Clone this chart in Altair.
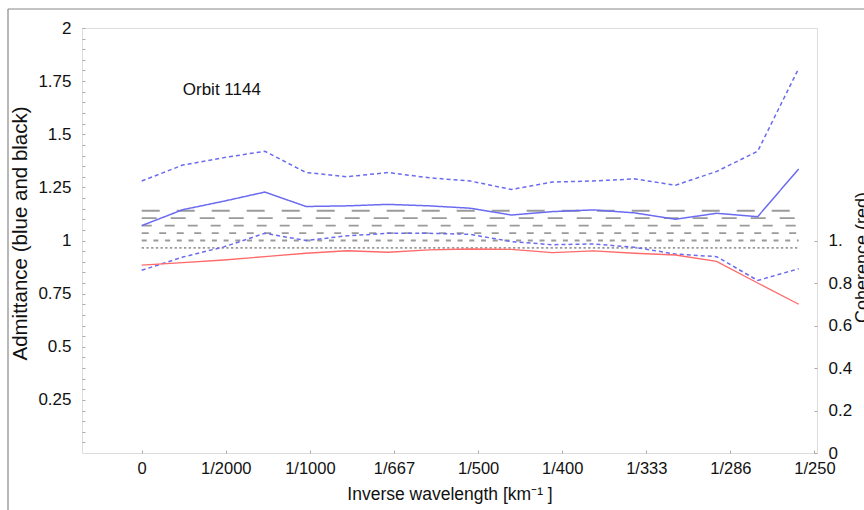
import altair as alt
import pandas as pd

# Wavenumber samples: k = n / 4096 km^-1, n = 0..16
k = [n / 4096 for n in range(17)]

# Admittance estimate (solid) and its upper / lower bounds (dotted)
adm_upper = [1.28, 1.355, 1.39, 1.42, 1.32, 1.30, 1.32, 1.295, 1.28, 1.24,
             1.275, 1.28, 1.29, 1.26, 1.325, 1.42, 1.81]
adm_mid = [1.07, 1.145, 1.185, 1.228, 1.16, 1.163, 1.17, 1.163, 1.152, 1.12,
           1.136, 1.144, 1.13, 1.10, 1.128, 1.112, 1.337]
adm_lower = [0.86, 0.922, 0.97, 1.034, 1.0, 1.022, 1.034, 1.034, 1.029, 0.995,
             0.98, 0.984, 0.968, 0.936, 0.924, 0.812, 0.867]

# Coherence between the two fields
coherence = [0.884, 0.896, 0.908, 0.924, 0.94, 0.952, 0.945, 0.956, 0.96, 0.958,
             0.943, 0.951, 0.94, 0.932, 0.902, 0.80, 0.70]

# Model admittance levels (black, dashed)
ref_levels = [1.14, 1.105, 1.07, 1.035, 1.0, 0.965]
ref_dashes = [[18, 17], [15, 14], [10, 13], [7, 10.5], [5, 6.7], [2.3, 2.4]]

# Axis ticks
x_ticks = [0, 0.0005, 0.001, 0.0015, 0.002, 0.0025, 0.003, 0.0035, 0.004]
x_labels = ["0", "1/2000", "1/1000", "1/667", "1/500", "1/400", "1/333", "1/286", "1/250"]
y_ticks = [round(0.05 * i, 2) for i in range(1, 41)]
coh_ticks = [0, 0.2, 0.4, 0.6, 0.8, 1.0]

annotation = pd.DataFrame({"k": [1 / 4096], "v": [1.71], "text": ["Orbit 1144"]})

FONT = "Liberation Sans"
BLUE = "#6b6bf2"
RED = "#ff6a6a"
GRAY = "#9a9a9a"
TICK = "#aaaaaa"

x_scale = alt.Scale(domain=[-0.000355, 0.004015], nice=False, zero=False)
y_scale = alt.Scale(domain=[0, 2], nice=False)

ref_rows = []
for j, lev in enumerate(ref_levels):
    for kk in (k[0], k[-1]):
        ref_rows.append({"k": kk, "v": lev, "level": f"m{j}"})
ref_df = pd.DataFrame(ref_rows)

blue_rows = []
for name, series in (("upper", adm_upper), ("mid", adm_mid), ("lower", adm_lower)):
    for kk, vv in zip(k, series):
        blue_rows.append({"k": kk, "v": vv, "series": name})
blue_df = pd.DataFrame(blue_rows)

coh_df = pd.DataFrame({"k": k, "c": coherence})

label_arr = "[" + ",".join(f"'{s}'" for s in x_labels) + "]"

x_axis = alt.Axis(
    values=x_ticks,
    labelExpr=f"{label_arr}[round(datum.value / 0.0005)]",
    title="Inverse wavelength [km⁻¹ ]",
    orient="bottom", offset=-3, tickSize=3, domain=False, grid=False,
    tickColor=TICK, labelPadding=7, labelFontSize=16.5, labelFont=FONT,
    labelColor="#111", titleFont=FONT, titleFontSize=17.5, titleFontWeight="normal",
    titleColor="#111", titleBaseline="middle", titleY=44,
)

left_axis = alt.Axis(
    values=y_ticks,
    labelExpr="abs(datum.value * 4 - round(datum.value * 4)) < 1e-6 ? '' + datum.value : ''",
    title="Admittance (blue and black)",
    orient="left", offset=-3, tickSize=3, domain=False, grid=False,
    tickColor=TICK, labelPadding=11, labelFontSize=17, labelFont=FONT,
    labelColor="#111", titleFont=FONT, titleFontSize=20.5, titleFontWeight="normal",
    titleColor="#111", titleAngle=270, titleX=-65, titleY=205,
    titleBaseline="middle", titleAlign="center",
)

right_axis = alt.Axis(
    values=coh_ticks,
    labelExpr="datum.value == 1 ? '1.' : '' + datum.value",
    title="Coherence (red)",
    orient="right", offset=-3, tickSize=3, domain=False, grid=False,
    tickColor=TICK, labelPadding=11, labelFontSize=17, labelFont=FONT,
    labelColor="#111", titleFont=FONT, titleFontSize=18, titleFontWeight="normal",
    titleColor="#111", titleAngle=270, titleX=39, titleY=229,
    titleBaseline="top", titleAlign="center",
)

refs = alt.Chart(ref_df).mark_line(color=GRAY, strokeWidth=1.8).encode(
    x=alt.X("k:Q", scale=x_scale, axis=x_axis),
    y=alt.Y("v:Q", scale=y_scale, axis=left_axis),
    strokeDash=alt.StrokeDash("level:N", scale=alt.Scale(domain=[f"m{j}" for j in range(6)],
                                                          range=ref_dashes), legend=None),
)

blue = alt.Chart(blue_df).mark_line(color=BLUE, strokeWidth=1.5).encode(
    x=alt.X("k:Q", scale=x_scale, axis=None),
    y=alt.Y("v:Q", scale=y_scale, axis=None),
    strokeDash=alt.StrokeDash("series:N", scale=alt.Scale(domain=["upper", "mid", "lower"],
                                                           range=[[4, 3], [1, 0], [4, 3]]),
                              legend=None),
)

red = alt.Chart(coh_df).mark_line(color=RED, strokeWidth=1.4).encode(
    x=alt.X("k:Q", scale=x_scale, axis=None),
    y=alt.Y("c:Q", scale=y_scale, axis=right_axis),
)

label = alt.Chart(annotation).mark_text(
    align="left", baseline="middle", font=FONT, fontSize=17, color="#111"
).encode(
    x=alt.X("k:Q", scale=x_scale, axis=None),
    y=alt.Y("v:Q", scale=y_scale, axis=None),
    text="text:N",
)

# Outer figure border (top and left edges)
frame_df = pd.DataFrame({"a": [0]})
border_top = alt.Chart(frame_df).mark_rule(color="#888888", strokeWidth=1.2).encode(
    x=alt.value(-74), x2=alt.value(790), y=alt.value(-19)
)
border_left = alt.Chart(frame_df).mark_rule(color="#888888", strokeWidth=1.2).encode(
    x=alt.value(-74), y=alt.value(-19), y2=alt.value(490)
)

chart = alt.layer(refs, blue, red, label, border_top, border_left).resolve_axis(
    x="independent", y="independent"
).resolve_scale(
    strokeDash="independent"
).properties(
    width=735, height=425,
    autosize=alt.AutoSizeParams(type="none"),
    padding={"left": 82, "top": 28, "right": 47, "bottom": 57},
).configure_view(
    stroke="#bdbdbd", strokeWidth=1.4
).configure(background="white")

chart.save("out.html", embed_options={"renderer": "svg", "actions": False})
